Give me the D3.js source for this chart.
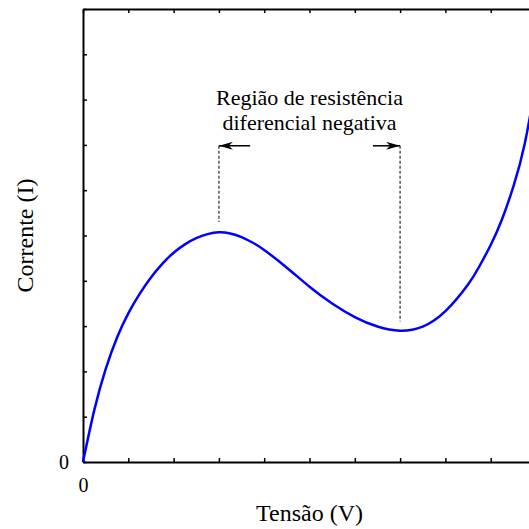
<!DOCTYPE html>
<html>
<head>
<meta charset="utf-8">
<script src="https://cdn.jsdelivr.net/npm/d3@7"></script>
<style>
  body { margin: 0; background: #fff; }
  svg { display: block; }
  text { font-family: "Liberation Serif", "Times New Roman", serif; fill: #000; }
</style>
</head>
<body>
<svg id="chart" width="529" height="529"></svg>
<script>
// I-V curve (V and I in tick units)
const voltage = [0, 0.25, 0.5, 0.75, 1.0, 1.25, 1.5, 1.75, 2.0, 2.25, 2.5, 2.75, 3.0, 3.25, 3.5, 3.75, 4.0, 4.5, 5.0, 5.5, 6.0, 6.5, 7.0, 7.5, 8.0, 8.5, 8.75, 9.0, 9.25, 9.5, 9.75, 10.0];
const current = [0, 1.15, 2.05, 2.745, 3.28, 3.71, 4.075, 4.375, 4.62, 4.805, 4.94, 5.03, 5.07, 5.045, 4.965, 4.84, 4.68, 4.29, 3.87, 3.50, 3.20, 2.99, 2.90, 2.99, 3.33, 3.92, 4.32, 4.79, 5.36, 6.08, 7.02, 8.4];
const tickValues = d3.range(0, 11);
const peakV = 3.0, valleyV = 7.0;
const dashTop = 6.98, peakDashEnd = 5.3, valleyDashEnd = 3.1;
const arrowTails = [3.69, 6.4];
const noteLines = ["Região de resistência", "diferencial negativa"];

const margin = { top: 9, left: 83 };
const size = 453;

const x = d3.scaleLinear().domain([0, 10]).range([0, size]);
const y = d3.scaleLinear().domain([0, 10]).range([size, 0]);

const svg = d3.select("#chart");
const g = svg.append("g").attr("transform", `translate(${margin.left},${margin.top})`);

const defs = svg.append("defs");
defs.append("marker")
  .attr("id", "head")
  .attr("viewBox", "0 0 14 8")
  .attr("refX", 14).attr("refY", 4)
  .attr("markerWidth", 14).attr("markerHeight", 8)
  .attr("markerUnits", "userSpaceOnUse")
  .attr("orient", "auto")
  .append("path")
  .attr("d", "M0,0 L14,4 L0,8 L4,4 Z")
  .attr("fill", "#000");

const fmt = d => d === 0 ? "0" : "";
const styleAxis = sel => {
  sel.select(".domain").attr("stroke", "#000").attr("stroke-width", 2);
  sel.selectAll(".tick line").attr("stroke", "#000").attr("stroke-width", 1.5);
  sel.selectAll("text").style("font-family", "Liberation Serif, serif").style("font-size", "20px").attr("fill", "#000");
};

g.append("g").attr("transform", `translate(0,${size})`)
  .call(d3.axisBottom(x).tickValues(tickValues).tickSizeInner(-4).tickSizeOuter(0).tickPadding(16).tickFormat(fmt))
  .call(styleAxis);
g.append("g")
  .call(d3.axisTop(x).tickValues(tickValues).tickSizeInner(-4).tickSizeOuter(0).tickFormat(""))
  .call(styleAxis);
g.append("g")
  .call(d3.axisLeft(y).tickValues(tickValues).tickSizeInner(-4).tickSizeOuter(0).tickPadding(14).tickFormat(fmt))
  .call(styleAxis);
g.append("g").attr("transform", `translate(${size},0)`)
  .call(d3.axisRight(y).tickValues(tickValues).tickSizeInner(-4).tickSizeOuter(0).tickFormat(""))
  .call(styleAxis);

const pts = voltage.map((v, i) => [v, current[i]]);
const line = d3.line().x(d => x(d[0])).y(d => y(d[1])).curve(d3.curveNatural);
g.append("path")
  .datum(pts)
  .attr("d", line)
  .attr("fill", "none")
  .attr("stroke", "#0000ff")
  .attr("stroke-width", 2.5);

// dashed guides
[[peakV, peakDashEnd], [valleyV, valleyDashEnd]].forEach(([v, end]) => {
  g.append("line")
    .attr("x1", x(v)).attr("x2", x(v))
    .attr("y1", y(dashTop)).attr("y2", y(end))
    .attr("stroke", "#555").attr("stroke-width", 1.5)
    .attr("stroke-dasharray", "3,2");
});

// arrows
[[arrowTails[0], peakV], [arrowTails[1], valleyV]].forEach(([from, to]) => {
  g.append("line")
    .attr("x1", x(from)).attr("x2", x(to))
    .attr("y1", y(dashTop)).attr("y2", y(dashTop))
    .attr("stroke", "#000").attr("stroke-width", 1.5)
    .attr("marker-end", "url(#head)");
});

const noteX = x((peakV + valleyV) / 2);
g.append("text")
  .attr("x", noteX).attr("y", 96)
  .attr("text-anchor", "middle")
  .style("font-size", "22px")
  .selectAll("tspan")
  .data(noteLines)
  .join("tspan")
  .attr("x", noteX)
  .attr("dy", (d, i) => i === 0 ? 0 : 25)
  .text(d => d);

svg.append("text")
  .attr("x", margin.left + x(5))
  .attr("y", 521)
  .attr("text-anchor", "middle")
  .style("font-size", "24px")
  .text("Tensão (V)");

svg.append("text")
  .attr("transform", `translate(33,${margin.top + y(5)}) rotate(-90)`)
  .attr("text-anchor", "middle")
  .style("font-size", "24px")
  .text("Corrente (I)");
</script>
</body>
</html>
